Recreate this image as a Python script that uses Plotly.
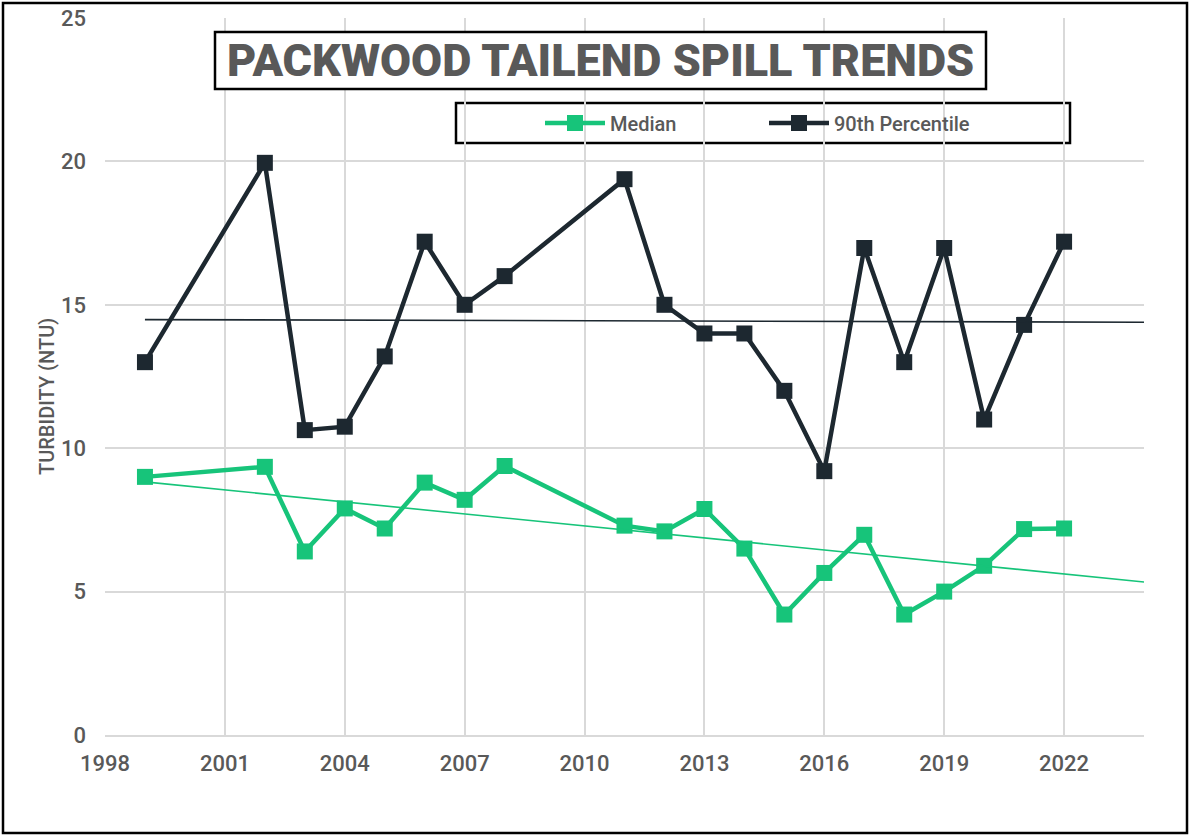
import numpy as np
import plotly.graph_objects as go

years = [1999, 2002, 2003, 2004, 2005, 2006, 2007, 2008, 2011, 2012, 2013,
         2014, 2015, 2016, 2017, 2018, 2019, 2020, 2021, 2022]
median = [9.0, 9.35, 6.4, 7.9, 7.2, 8.8, 8.2, 9.38, 7.3, 7.1, 7.88,
          6.5, 4.2, 5.65, 6.98, 4.2, 5.0, 5.9, 7.18, 7.2]
p90 = [13.0, 19.95, 10.63, 10.75, 13.2, 17.2, 15.0, 16.0, 19.38, 15.0, 14.0,
       14.0, 12.0, 9.2, 16.98, 13.0, 16.98, 11.0, 14.3, 17.2]
x_ticks = [1998, 2001, 2004, 2007, 2010, 2013, 2016, 2019, 2022]
y_ticks = [0, 5, 10, 15, 20, 25]
trend_x = [1999, 2024]

GREEN = "#17C47A"
DARK = "#1D2830"
GREY = "#595959"
FONT = "Roboto, Liberation Sans, Arial, sans-serif"

W, H = 1191, 836
L, R, T, B = 105, 47, 18, 101
pw, ph = W - L - R, H - T - B

def px(x):
    return (x - L) / pw

def py(y):
    return 1 - (y - T) / ph

fig = go.Figure()

fig.add_trace(go.Scatter(
    x=years, y=median, mode="lines+markers", name="Median",
    line=dict(color=GREEN, width=4.5),
    marker=dict(symbol="square", size=16, color=GREEN)))
fig.add_trace(go.Scatter(
    x=years, y=p90, mode="lines+markers", name="90th Percentile",
    line=dict(color=DARK, width=4.5),
    marker=dict(symbol="square", size=16, color=DARK)))

for ys, col in [(median, GREEN), (p90, DARK)]:
    m, c = np.polyfit(years, ys, 1)
    fig.add_trace(go.Scatter(
        x=trend_x, y=[m * t + c for t in trend_x], mode="lines",
        line=dict(color=col, width=1.6), showlegend=False, hoverinfo="skip"))

shapes = [
    dict(type="rect", xref="paper", yref="paper",
         x0=px(3), x1=px(1187), y0=py(833), y1=py(3),
         line=dict(color="black", width=2.5), fillcolor="rgba(0,0,0,0)", layer="above"),
    dict(type="rect", xref="paper", yref="paper",
         x0=px(215), x1=px(986), y0=py(89), y1=py(32),
         line=dict(color="black", width=2.5), fillcolor="white", layer="above"),
    dict(type="rect", xref="paper", yref="paper",
         x0=px(456), x1=px(1070), y0=py(143), y1=py(103),
         line=dict(color="black", width=2.5), fillcolor="white", layer="below"),
]

annotations = [
    dict(text="PACKWOOD TAILEND SPILL TRENDS", xref="paper", yref="paper",
         x=px(600), y=py(61), xanchor="center", yanchor="middle", showarrow=False,
         font=dict(family=FONT, size=45, color=GREY, weight=900)),
    dict(text="TURBIDITY (NTU)", xref="paper", yref="paper",
         x=px(47), y=py(397), xanchor="center", yanchor="middle", showarrow=False,
         textangle=-90, font=dict(family=FONT, size=20, color=GREY, weight=500)),
]

fig.update_layout(
    width=W, height=H,
    margin=dict(l=L, r=R, t=T, b=B, autoexpand=False),
    paper_bgcolor="white", plot_bgcolor="white",
    shapes=shapes, annotations=annotations,
    showlegend=True,
    legend=dict(orientation="h", x=px(540), y=py(123), xanchor="left", yanchor="middle",
                bgcolor="rgba(0,0,0,0)", borderwidth=0, entrywidth=149, entrywidthmode="pixels",
                itemwidth=60,
                font=dict(family=FONT, size=20, color=GREY, weight=500)),
    xaxis=dict(range=[1998, 2024], tickvals=x_ticks, ticktext=[str(v) for v in x_ticks],
               showgrid=True, gridcolor="#D9D9D9", gridwidth=1.5, automargin=False,
               zeroline=False, showline=True, linecolor="#D9D9D9", linewidth=1.5,
               ticks="", ticklabelstandoff=8,
               tickfont=dict(family=FONT, size=22, color=GREY, weight=500)),
    yaxis=dict(range=[0, 25], tickvals=y_ticks, automargin=False,
               showgrid=True, gridcolor="#D9D9D9", gridwidth=1.5,
               zeroline=False, showline=False, ticks="", ticklabelstandoff=18,
               tickfont=dict(family=FONT, size=22, color=GREY, weight=500)),
)

fig.write_html("out.html", config={"displayModeBar": False},
               post_script="document.body.style.margin='0';")
